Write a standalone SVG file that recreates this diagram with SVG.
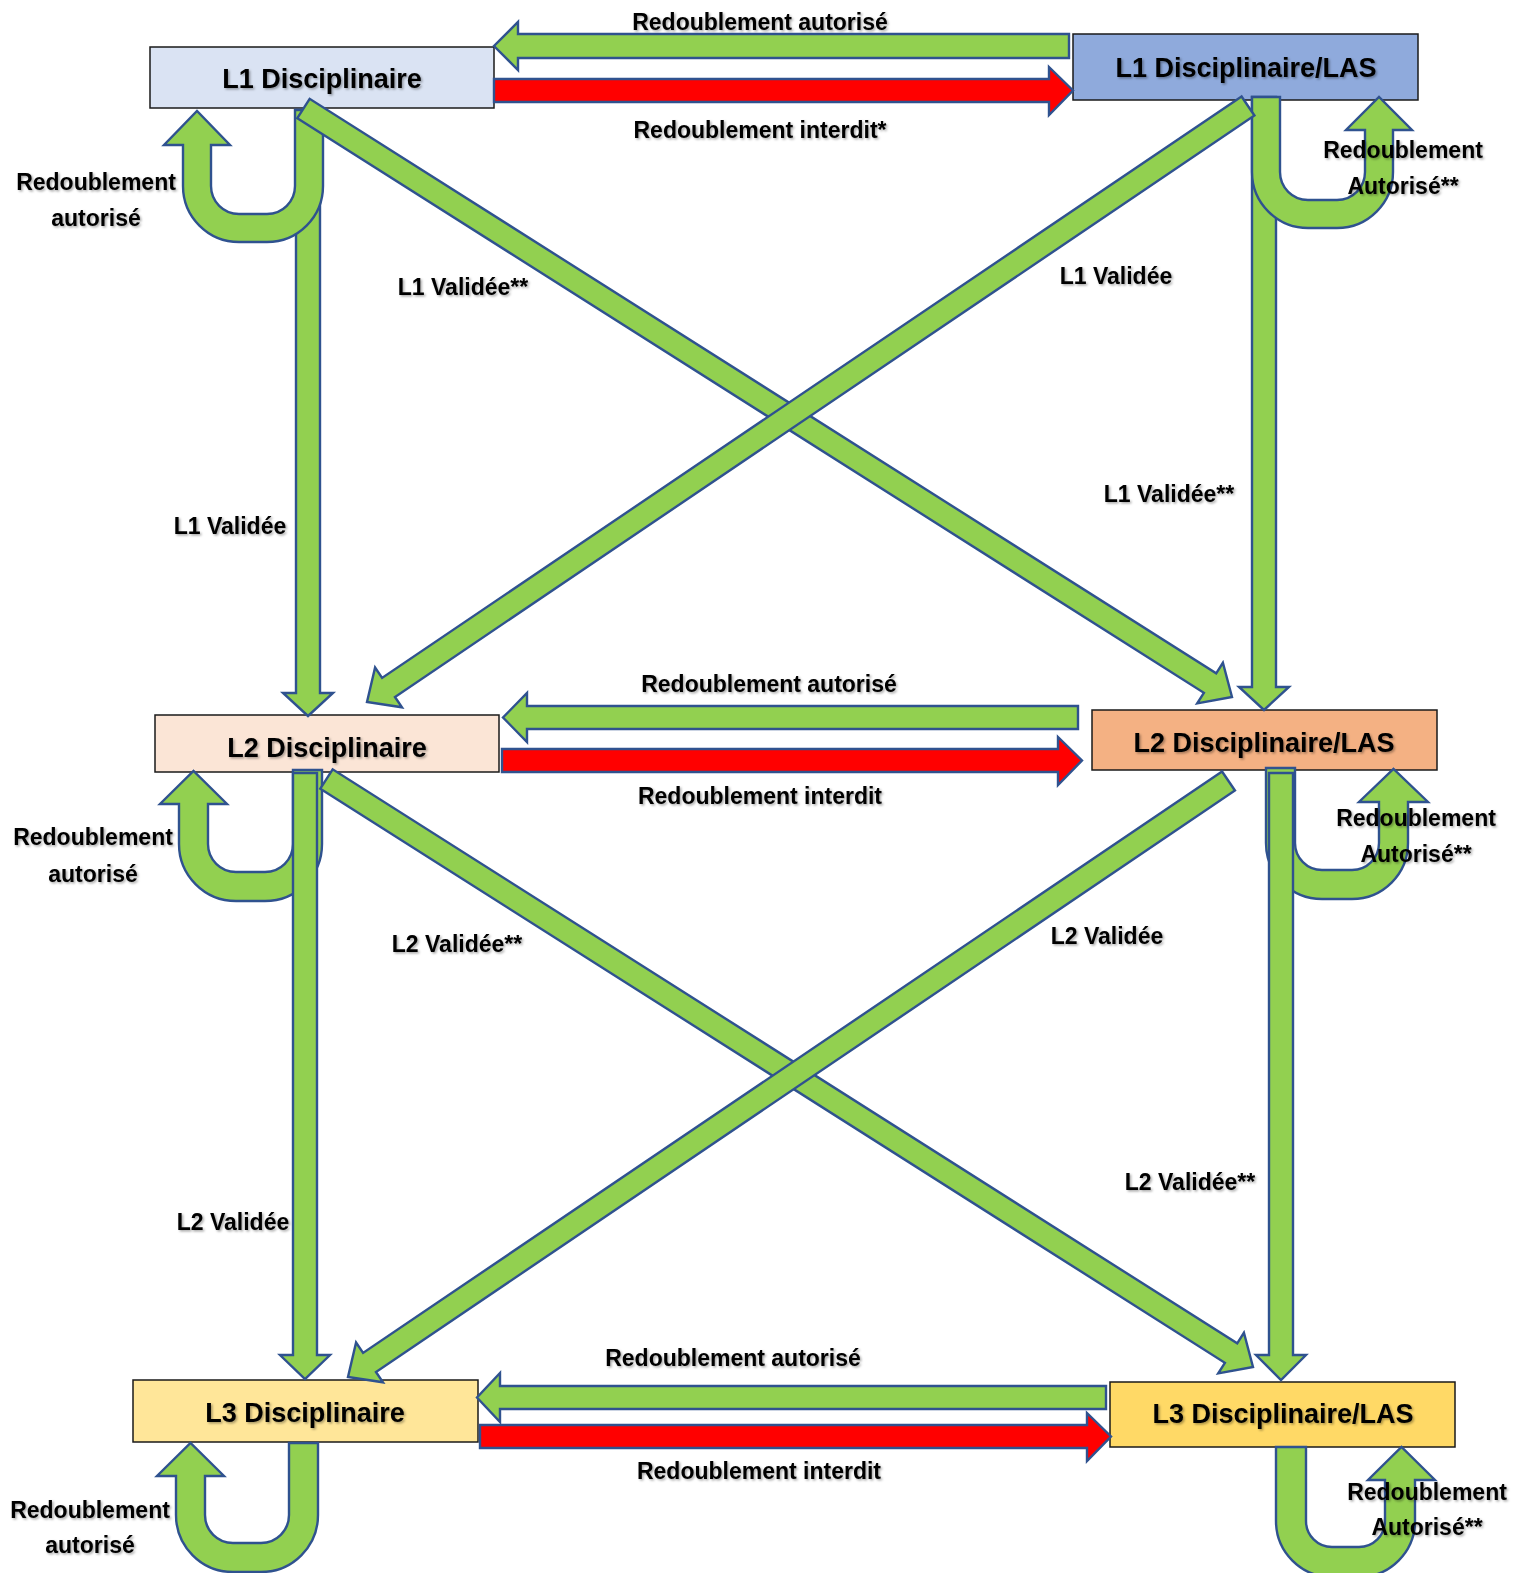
<svg xmlns="http://www.w3.org/2000/svg" width="1515" height="1573" viewBox="0 0 1515 1573">
<defs>
<filter id="sh" x="-5%" y="-20%" width="110%" height="150%">
<feDropShadow dx="1.5" dy="1.5" stdDeviation="1" flood-color="#000" flood-opacity="0.35"/>
</filter>
<style>
.box{stroke:#1a1a1a;stroke-width:1.5}
.title{font-family:"Liberation Sans",Arial,sans-serif;font-weight:bold;font-size:27px;fill:#000;text-anchor:middle;filter:url(#sh)}
.lbl{font-family:"Liberation Sans",Arial,sans-serif;font-weight:bold;font-size:23px;fill:#000;text-anchor:middle;filter:url(#sh)}
.g{fill:#92d050;stroke:#2f528f;stroke-width:2.4;stroke-linejoin:miter}
.r{fill:#ff0000;stroke:#2f528f;stroke-width:2.4;stroke-linejoin:miter}
</style>
</defs>
<rect width="1515" height="1573" fill="#fff"/>

<g id="n-l1d"><rect class="box" x="150" y="47" width="344" height="61" fill="#dae3f3"/><text class="title" x="322" y="88">L1 Disciplinaire</text></g>
<g id="n-l1las"><rect class="box" x="1073" y="34" width="345" height="66" fill="#8faadc"/><text class="title" x="1246" y="77">L1 Disciplinaire/LAS</text></g>
<g id="n-l2d"><rect class="box" x="155" y="715" width="344" height="57" fill="#fbe5d6"/><text class="title" x="327" y="757">L2 Disciplinaire</text></g>
<g id="n-l2las"><rect class="box" x="1092" y="710" width="345" height="60" fill="#f4b183"/><text class="title" x="1264" y="752">L2 Disciplinaire/LAS</text></g>
<g id="n-l3d"><rect class="box" x="133" y="1380" width="345" height="62" fill="#ffe699"/><text class="title" x="305" y="1422">L3 Disciplinaire</text></g>
<g id="n-l3las"><rect class="box" x="1110" y="1382" width="345" height="65" fill="#ffd966"/><text class="title" x="1283" y="1423">L3 Disciplinaire/LAS</text></g>

<g id="connectors">
<polygon class="g" points="1069,34 518,34 518,22 494,46 518,70 518,58 1069,58"/>
<polygon class="r" points="494,79 1049,79 1049,67 1073,90.5 1049,115 1049,102 494,102"/>
<polygon class="g" points="1078,706 527,706 527,693 503,717.5 527,742 527,729 1078,729"/>
<polygon class="r" points="502,749 1058,749 1058,737 1082,760.5 1058,785 1058,772 502,772"/>
<polygon class="g" points="1106,1386 500,1386 500,1373 477,1397.5 500,1422 500,1409 1106,1409"/>
<polygon class="r" points="480,1425 1087,1425 1087,1413 1111,1436.5 1087,1461 1087,1448 480,1448"/>

<polygon class="g" points="296,110 320,110 320,693 333,693 308,716 283,693 296,693"/>
<polygon class="g" points="1252,97 1276,97 1276,687 1289,687 1264,710 1239,687 1252,687"/>
<path class="g" d="M295,110 H323 V186 A56,56 0 0 1 267,242 H239 A56,56 0 0 1 183,186 V145 H164 L197,111 L230,145 H211 V186 A28,28 0 0 0 239,214 H267 A28,28 0 0 0 295,186 Z"/>
<path class="g" d="M1252,97 H1280 V172 A28,28 0 0 0 1308,200 H1337 A28,28 0 0 0 1365,172 V130 H1346 L1379,97 L1412,130 H1393 V172 A56,56 0 0 1 1337,228 H1308 A56,56 0 0 1 1252,172 Z"/>

<path class="g" d="M293,770 H322 V844 A57,57 0 0 1 265,901 H236 A57,57 0 0 1 179,844 V804 H160 L193.5,771 L227,804 H208 V844 A28,28 0 0 0 236,872 H265 A28,28 0 0 0 293,844 Z"/>
<path class="g" d="M1266,768 H1295 V843 A27,27 0 0 0 1322,870 H1352 A27,27 0 0 0 1379,843 V802 H1359 L1393.5,769 L1428,802 H1408 V843 A56,56 0 0 1 1352,899 H1322 A56,56 0 0 1 1266,843 Z"/>
<polygon class="g" points="293,773 317,773 317,1355 330,1355 305,1379 280,1355 293,1355"/>
<polygon class="g" points="1269,773 1293,773 1293,1355 1306,1355 1281,1380 1256,1355 1269,1355"/>

<path class="g" d="M289,1443 H318 V1515 A57,57 0 0 1 261,1572 H233 A57,57 0 0 1 176,1515 V1476 H157 L190.5,1443 L224,1476 H205 V1515 A28,28 0 0 0 233,1543 H261 A28,28 0 0 0 289,1515 Z"/>
<path class="g" d="M1276,1447 H1306 V1521 A26,26 0 0 0 1332,1547 H1359 A26,26 0 0 0 1385,1521 V1480 H1368 L1401.5,1447 L1435,1480 H1415 V1521 A56,56 0 0 1 1359,1577 H1332 A56,56 0 0 1 1276,1521 Z"/>

<polygon class="g" points="297.34,118.21 1203.88,692.79 1197.19,703.35 1232,697 1222.89,662.81 1216.20,673.37 309.66,98.79"/>
<polygon class="g" points="1241.56,96.48 382.09,677.91 375.09,667.55 367,702 401.98,707.31 394.98,696.96 1254.44,115.53"/>
<polygon class="g" points="320.34,788.71 1224.89,1362.78 1218.19,1373.33 1253,1367 1243.91,1332.80 1237.21,1343.36 332.66,769.29"/>
<polygon class="g" points="1222.05,771.48 363.08,1352.90 356.08,1342.55 348,1377 382.98,1382.30 375.98,1371.95 1234.95,790.52"/>
</g>

<g id="labels">
<text class="lbl" x="760" y="30">Redoublement autorisé</text>
<text class="lbl" x="760" y="138">Redoublement interdit*</text>
<text class="lbl" x="96" y="190">Redoublement</text>
<text class="lbl" x="96" y="226">autorisé</text>
<text class="lbl" x="1403" y="158">Redoublement</text>
<text class="lbl" x="1403" y="194">Autorisé**</text>
<text class="lbl" x="463" y="295">L1 Validée**</text>
<text class="lbl" x="1116" y="284">L1 Validée</text>
<text class="lbl" x="230" y="534">L1 Validée</text>
<text class="lbl" x="1169" y="502">L1 Validée**</text>
<text class="lbl" x="769" y="692">Redoublement autorisé</text>
<text class="lbl" x="760" y="804">Redoublement interdit</text>
<text class="lbl" x="93" y="845">Redoublement</text>
<text class="lbl" x="93" y="882">autorisé</text>
<text class="lbl" x="1416" y="826">Redoublement</text>
<text class="lbl" x="1416" y="862">Autorisé**</text>
<text class="lbl" x="457" y="952">L2 Validée**</text>
<text class="lbl" x="1107" y="944">L2 Validée</text>
<text class="lbl" x="233" y="1230">L2 Validée</text>
<text class="lbl" x="1190" y="1190">L2 Validée**</text>
<text class="lbl" x="733" y="1366">Redoublement autorisé</text>
<text class="lbl" x="759" y="1479">Redoublement interdit</text>
<text class="lbl" x="90" y="1518">Redoublement</text>
<text class="lbl" x="90" y="1553">autorisé</text>
<text class="lbl" x="1427" y="1500">Redoublement</text>
<text class="lbl" x="1427" y="1535">Autorisé**</text>
</g>
</svg>
